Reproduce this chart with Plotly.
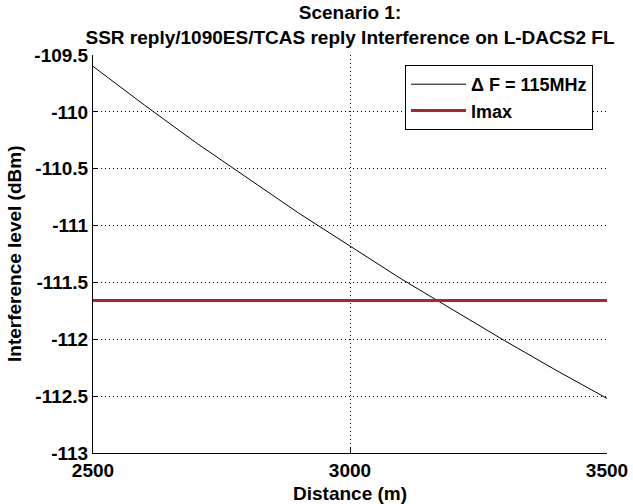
import plotly.graph_objects as go

# Data
distance_m = [2500, 2600, 2700, 2800, 2900, 3000, 3100, 3200, 3300, 3400, 3500]
interference_dbm = [-109.60, -109.94, -110.27, -110.58, -110.89, -111.18,
                    -111.47, -111.74, -112.01, -112.27, -112.52]
imax_x = [2500, 3500]
imax_dbm = [-111.66, -111.66]

x_ticks = [2500, 3000, 3500]
y_ticks = [-109.5, -110, -110.5, -111, -111.5, -112, -112.5, -113]

FONT = "Liberation Sans"
FS = 19

fig = go.Figure()
fig.add_trace(go.Scatter(x=distance_m, y=interference_dbm, mode="lines",
                         name="Δ F = 115MHz",
                         line=dict(color="black", width=1)))
fig.add_trace(go.Scatter(x=imax_x, y=imax_dbm, mode="lines", name="Imax",
                         line=dict(color="#B3202E", width=3)))

W, H = 633, 504
L, R, T, B = 93, 26, 55, 51

fig.update_layout(
    width=W, height=H,
    margin=dict(l=L, r=R, t=T, b=B, autoexpand=False),
    paper_bgcolor="white", plot_bgcolor="white",
    font=dict(family=FONT, size=FS, color="black", weight="bold"),
    title=dict(text="Scenario 1:<br>SSR reply/1090ES/TCAS reply Interference on L-DACS2 FL",
               x=0.5, xref="paper", xanchor="center",
               y=1 - 19 / H, yref="container", yanchor="middle",
               font=dict(family=FONT, size=FS, weight="bold")),
    showlegend=True,
    legend=dict(x=(405 - L) / (W - L - R), y=(H - B - 65) / (H - T - B),
                xanchor="left", yanchor="top",
                bgcolor="white", bordercolor="black", borderwidth=1,
                font=dict(family=FONT, size=18, weight="bold"),
                tracegroupgap=0, itemwidth=55),
    xaxis=dict(range=[2500, 3500], tickvals=x_ticks,
               ticktext=[str(v) for v in x_ticks],
               showgrid=True, gridcolor="black", griddash="1px,3px", gridwidth=1,
               showline=True, linecolor="black", linewidth=1, mirror=False,
               ticks="inside", ticklen=5, tickcolor="black",
               zeroline=False, automargin=False,
               tickfont=dict(family=FONT, size=FS, weight="bold")),
    yaxis=dict(range=[-113, -109.5], tickvals=y_ticks,
               ticktext=[("%g" % v) for v in y_ticks],
               showgrid=True, gridcolor="black", griddash="1px,3px", gridwidth=1,
               showline=True, linecolor="black", linewidth=1, mirror=False,
               ticks="inside", ticklen=5, tickcolor="black",
               zeroline=False, automargin=False,
               tickfont=dict(family=FONT, size=FS, weight="bold")),
    annotations=[
        dict(text="Distance (m)", xref="paper", yref="paper",
             x=0.5, y=-(493 - (H - B)) / (H - T - B), xanchor="center",
             yanchor="middle", showarrow=False,
             font=dict(family=FONT, size=FS, weight="bold")),
        dict(text="Interference level (dBm)", xref="paper", yref="paper",
             x=-(L - 14) / (W - L - R), y=0.5, xanchor="center",
             yanchor="middle", textangle=-90, showarrow=False,
             font=dict(family=FONT, size=FS, weight="bold")),
    ],
)

fig.write_html("out.html")
